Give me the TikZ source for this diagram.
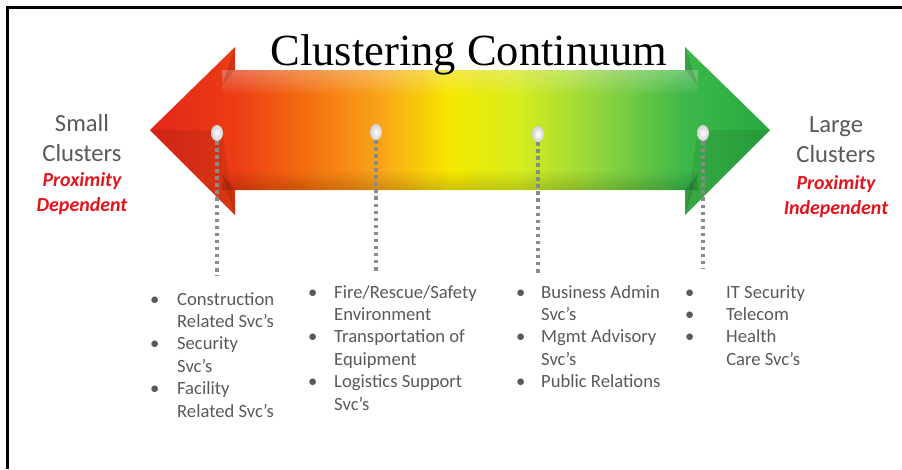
\documentclass[tikz,border=0pt]{standalone}
\usepackage{fontspec}
\setmainfont{Liberation Serif}
\newfontfamily\calibri{Carlito}
\usetikzlibrary{shapes.geometric}

\definecolor{txtgray}{HTML}{595959}
\definecolor{txtred}{HTML}{E3141B}
\definecolor{dotgray}{HTML}{8A8A8A}
\definecolor{cc0}{HTML}{E2261A}
\definecolor{cc1}{HTML}{EC3C14}
\definecolor{cc2}{HTML}{F36A10}
\definecolor{cc3}{HTML}{F8A418}
\definecolor{cc4}{HTML}{F6E800}
\definecolor{cc5}{HTML}{D6EC1E}
\definecolor{cc6}{HTML}{8FD43E}
\definecolor{cc7}{HTML}{3DB84A}
\definecolor{cc8}{HTML}{27A840}

\pgfdeclarehorizontalshading{continuum}{100bp}{color(0bp)=(cc0); color(25bp)=(cc0); color(31.9bp)=(cc1); color(37.1bp)=(cc2); color(43.5bp)=(cc3); color(49.2bp)=(cc4); color(54.8bp)=(cc5); color(61.3bp)=(cc6); color(68.1bp)=(cc7); color(75bp)=(cc8); color(100bp)=(cc8)}

\newcommand{\svclist}[2]{\begin{tabular}[t]{@{}p{#1}@{}l@{}}#2\end{tabular}}

\tikzset{
title text/.style = {font = \fontsize{38}{40}\selectfont, anchor = base, inner sep = 0pt},
side text/.style = {font = \calibri\fontsize{21}{25.6}\selectfont, text = txtgray, align = center, inner sep = 0pt},
key text/.style = {font = \calibri\bfseries\itshape\fontsize{17}{21.3}\selectfont, text = txtred, align = center, inner sep = 0pt},
marker/.style = {ellipse, inner color = white, outer color = black!18, minimum width = 0.36cm, minimum height = 0.48cm, inner sep = 0pt},
tick line/.style = {draw = dotgray, line width = 3.6pt, dash pattern = on 3.2pt off 2.8pt},
list text/.style = {font = \calibri\fontsize{15.9}{19.2}\selectfont, text = txtgray, anchor = base west, inner sep = 0pt},
}

\begin{document}
\begin{tikzpicture}[x = 0.03cm, y = -0.03cm]
    \useasboundingbox (0, 0) rectangle (902, 469);
    \draw[line width = 2.6pt] (7.5, 469) |- (902, 7.5);

    % the two-headed arrow
    \shade[shading = continuum] (150, 130) -- (235, 47) -- (235, 70) -- (685, 70) -- (685, 47) -- (770, 130) -- (685, 215) -- (685, 190) -- (235, 190) -- (235, 215) -- cycle;
    \foreach \k in {1, ..., 8}
        \fill[white, opacity = 0.04] (222, 70) rectangle (698, 70 + 3 * \k);
    \foreach \k in {1, ..., 6}
        \fill[black, opacity = 0.025] (222, 190) rectangle (698, 190 - 3 * \k);
    \fill[black, opacity = 0.08] (150, 130) -- (222, 130) -- (235, 215) -- cycle;
    \fill[black, opacity = 0.08] (770, 130) -- (698, 130) -- (685, 215) -- cycle;
    \fill[black, opacity = 0.12] (235, 47) -- (235, 70) -- (222, 86) -- cycle;
    \fill[black, opacity = 0.12] (235, 215) -- (235, 190) -- (222, 174) -- cycle;
    \fill[black, opacity = 0.12] (685, 47) -- (685, 70) -- (698, 86) -- cycle;
    \fill[black, opacity = 0.12] (685, 215) -- (685, 190) -- (698, 174) -- cycle;

    \node[title text] (title) at (469, 65) {Clustering Continuum};

    \node[side text] (small) at (82, 138) {Small\\Clusters};
    \node[key text] (dep) at (82, 194) {Proximity\\Dependent};
    \node[side text] (large) at (836, 140) {Large\\Clusters};
    \node[key text] (indep) at (836, 197) {Proximity\\Independent};

    \node[marker] (d1) at (217, 133) {};
    \node[marker] (d2) at (376, 132) {};
    \node[marker] (d3) at (538, 134) {};
    \node[marker] (d4) at (703, 133) {};
    \coordinate (e1) at (217, 275);
    \coordinate (e2) at (376, 272);
    \coordinate (e3) at (538, 275);
    \coordinate (e4) at (703, 268);
    \foreach \i in {1, 2, 3, 4}
        \draw[tick line] (d\i.south) -- (e\i);

    \node[list text] (list1) at (150, 305) {\svclist{23pt}{\textbullet & Construction\\ & Related Svc’s\\ \textbullet & Security\\ & Svc’s\\ \textbullet & Facility\\ & Related Svc’s}};
    \node[list text] (list2) at (308, 298) {\svclist{22.2pt}{\textbullet & Fire/Rescue/Safety\\ & Environment\\ \textbullet & Transportation of\\ & Equipment\\ \textbullet & Logistics Support\\ & Svc’s}};
    \node[list text] (list3) at (516, 298) {\svclist{21.3pt}{\textbullet & Business Admin\\ & Svc’s\\ \textbullet & Mgmt Advisory\\ & Svc’s\\ \textbullet & Public Relations}};
    \node[list text] (list4) at (685, 298) {\svclist{35pt}{\textbullet & IT Security\\ \textbullet & Telecom\\ \textbullet & Health\\ & Care Svc’s}};
\end{tikzpicture}
\end{document}
